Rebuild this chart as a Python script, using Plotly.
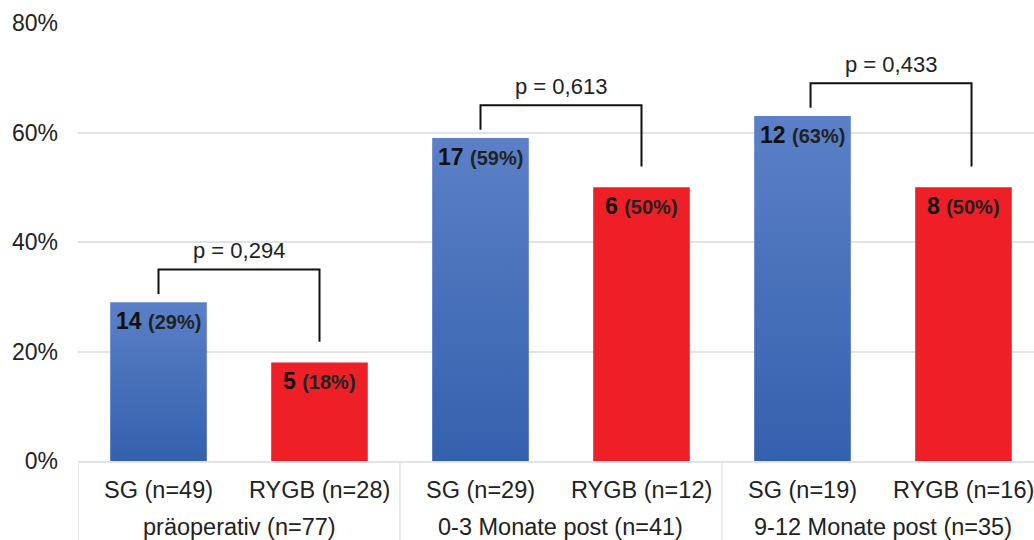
import plotly.graph_objects as go

# Data
groups = ["präoperativ (n=77)", "0-3 Monate post (n=41)", "9-12 Monate post (n=35)"]
procedures = ["SG", "RYGB", "SG", "RYGB", "SG", "RYGB"]
group_sizes = [49, 28, 29, 12, 19, 16]
counts = [14, 5, 17, 6, 12, 8]
percents = [29, 18, 59, 50, 63, 50]
p_values = ["0,294", "0,613", "0,433"]
y_ticks = [0, 20, 40, 60, 80]

FONT = "Liberation Sans, Arial, sans-serif"
BLUE_DARK = "#3461ad"
BLUE_LIGHT = "#5b80c7"
RED = "#ee1f26"
GRID = "#dfe3ea"
TEXT = "#222"
BAR_W = 0.6

x_pos = list(range(len(procedures)))

fig = go.Figure()

# Bars: SG with a vertical gradient fill, RYGB solid red
for x, pct, proc in zip(x_pos, percents, procedures):
    xs = [x - BAR_W / 2, x + BAR_W / 2, x + BAR_W / 2, x - BAR_W / 2, x - BAR_W / 2]
    ys = [0, 0, pct, pct, 0]
    if proc == "SG":
        fig.add_trace(go.Scatter(
            x=xs, y=ys, mode="lines", fill="toself",
            line=dict(width=0),
            fillgradient=dict(type="vertical",
                              colorscale=[[0, BLUE_DARK], [1, BLUE_LIGHT]]),
            hoverinfo="skip", showlegend=False))
    else:
        fig.add_trace(go.Scatter(
            x=xs, y=ys, mode="lines", fill="toself",
            line=dict(width=0), fillcolor=RED,
            hoverinfo="skip", showlegend=False))

# Value labels inside bar tops
for x, c, pct in zip(x_pos, counts, percents):
    fig.add_annotation(
        x=x, y=pct, xref="x", yref="y", yanchor="middle", yshift=-19,
        text=f"<b>{c}</b> <b><span style='font-size:20px;color:#222'>({pct}%)</span></b>",
        showarrow=False, font=dict(family=FONT, size=23, color="#111"))

# Significance brackets
for g, p in enumerate(p_values):
    i_sg, i_ry = 2 * g, 2 * g + 1
    off = 0.05 if g == 2 else 0.0
    xl, xr = x_pos[i_sg] + off, x_pos[i_ry] + off
    top = max(percents[i_sg], percents[i_ry]) + 6
    yl = percents[i_sg] + 1.5
    yr = percents[i_ry] + 3.8
    fig.add_trace(go.Scatter(
        x=[xl, xl, xr, xr], y=[yl, top, top, yr], mode="lines",
        line=dict(color="#111", width=2), hoverinfo="skip", showlegend=False))
    fig.add_annotation(
        x=(xl + xr) / 2, y=top, xref="x", yref="y", yanchor="middle", yshift=19,
        text=f"p = {p}", showarrow=False,
        font=dict(family=FONT, size=22, color=TEXT))

# Category labels (two rows)
for x, proc, n in zip(x_pos, procedures, group_sizes):
    fig.add_annotation(
        x=x, y=0, xref="x", yref="paper", yanchor="middle", yshift=-29,
        text=f"{proc} (n={n})", showarrow=False,
        font=dict(family=FONT, size=23.5, color=TEXT))
for g, name in enumerate(groups):
    fig.add_annotation(
        x=2 * g + 0.5, y=0, xref="x", yref="paper", yanchor="middle", yshift=-66,
        text=name, showarrow=False,
        font=dict(family=FONT, size=23.5, color=TEXT))

# Group dividers below the axis
for g in range(len(groups) + 1):
    xd = 2 * g - 0.5
    fig.add_shape(type="line", xref="x", yref="paper", x0=xd, x1=xd,
                  y0=0, y1=-0.2, line=dict(color=GRID, width=1.5))

fig.update_layout(
    width=1034, height=540,
    margin=dict(l=78, r=0, t=23, b=79),
    plot_bgcolor="white", paper_bgcolor="white",
    showlegend=False,
    xaxis=dict(range=[-0.5, 5.438], showticklabels=False, showgrid=False,
               zeroline=False, showline=True, linecolor=GRID, linewidth=1.5,
               fixedrange=True),
    yaxis=dict(range=[0, 80], tickvals=y_ticks,
               ticktext=[f"{v}%" for v in y_ticks],
               showgrid=True, gridcolor=GRID, gridwidth=1.5,
               zeroline=False, showline=False, ticks="",
               ticklabelstandoff=19,
               tickfont=dict(family=FONT, size=23, color=TEXT),
               fixedrange=True),
)

fig.write_html("out.html")
